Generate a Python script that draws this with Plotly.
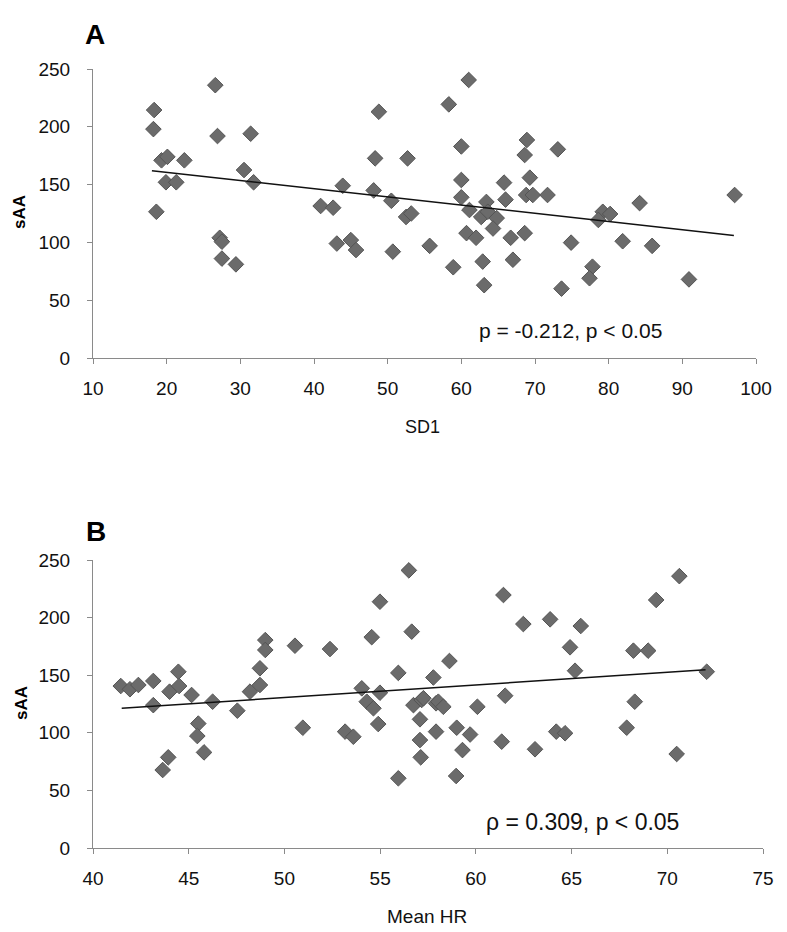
import plotly.graph_objects as go

# ---------------- Data ----------------
# Panel A: SD1 vs sAA
sd1 = [18.3, 18.2, 19.3, 20.1, 22.4, 19.9, 21.3, 18.6, 26.6, 26.9, 31.4, 30.5, 31.8,
       27.2, 27.5, 27.5, 29.4, 40.9, 42.6, 43.9, 43.1, 45.0, 45.7, 48.8, 48.3, 48.1,
       50.5, 50.7, 52.7, 52.5, 53.2, 55.7,
       61.0, 58.3, 60.0, 68.9, 68.6, 73.1, 60.0, 65.8, 69.3, 60.0, 66.0, 68.8, 69.7,
       71.7, 61.1, 63.4, 62.7, 63.6, 64.8, 64.3, 60.7, 62.0, 66.7, 68.6, 58.9, 62.9,
       63.1, 67.0, 74.9, 73.6, 77.8, 77.4, 79.2, 80.2, 78.6, 81.9, 84.2, 85.9, 90.9, 97.1]
saa_a = [214.5, 198, 171, 174, 171, 152, 152, 126.5, 236, 192, 194, 162.6, 152,
         104, 100.6, 86, 81, 131.5, 130, 149, 99, 102, 93.4, 213, 172.7, 145,
         136, 92, 172.7, 122, 125, 97,
         240.5, 219.4, 183, 188.6, 175.6, 180.5, 154, 151.7, 156, 139, 137, 141, 141,
         141, 128, 135, 122, 126.5, 121, 112, 108, 104, 104, 108, 78.5, 83.4,
         63, 85, 99.8, 60, 79, 69, 126.5, 124.6, 119.4, 101, 134, 97, 68, 141]
trend_a_x = [18, 97]
trend_a_y = [162, 106]

# Panel B: Mean HR vs sAA
hr = [41.45, 41.93, 42.37, 43.15, 43.15, 44.0, 44.46, 44.5, 43.64, 43.93, 45.15, 46.25,
      45.5, 45.45, 45.8, 47.54, 48.2, 48.72, 48.72, 49.0, 49.0, 50.55, 50.96, 52.38,
      53.17, 53.6, 54.04, 54.3, 54.65, 54.9, 54.56, 54.99, 54.99, 55.95, 55.95, 56.5,
      56.65, 56.74, 57.17, 57.08, 57.08, 57.12, 57.78, 57.92, 57.92,
      57.26, 58.04, 58.3, 58.62, 59.0, 59.7, 59.3, 58.97, 60.08, 61.44, 61.53, 61.35,
      62.48, 63.09, 63.88, 64.2, 64.66, 64.92, 65.18, 65.48, 67.88, 68.23, 69.0, 68.3,
      69.42, 70.63, 70.49, 72.06]
saa_b = [140.6, 137.8, 141.5, 145, 124, 135.7, 153, 140.6, 67.7, 78.7, 132.8, 127,
         108, 97.2, 83, 119.2, 135.7, 141.5, 156, 180.5, 171.9, 175.6, 104.4, 172.7,
         101, 96.6, 138.6, 127, 121.3, 107.6, 183, 213.8, 134.8, 60.5, 152, 241,
         187.8, 124, 128.5, 111.7, 93.7, 78.7, 148, 125.6, 101,
         130, 127, 122.6, 162.3, 104.4, 98.5, 85, 62.5, 122.6, 219.6, 132.2, 92.3,
         194.4, 85.7, 198.5, 101, 99.6, 174.2, 153.9, 192.7, 104.4, 171.3, 171.3, 127,
         215.3, 236, 81.6, 153]
trend_b_x = [41.5, 72.0]
trend_b_y = [121.3, 154.7]

y_ticks = [0, 50, 100, 150, 200, 250]

# ---------------- Figure ----------------
W, H = 787, 932
OFF = 8  # page body margin
def px(x):
    return (x - OFF) / W
def py(y):
    return 1 - (y - OFF) / H

marker = dict(symbol="diamond", size=12, color="#6b6b6b",
              line=dict(color="#555555", width=1))

fig = go.Figure()
fig.add_trace(go.Scatter(x=sd1, y=saa_a, mode="markers", marker=marker,
                         xaxis="x", yaxis="y", showlegend=False))
fig.add_trace(go.Scatter(x=trend_a_x, y=trend_a_y, mode="lines",
                         line=dict(color="#111111", width=1.5),
                         xaxis="x", yaxis="y", showlegend=False))
fig.add_trace(go.Scatter(x=hr, y=saa_b, mode="markers", marker=marker,
                         xaxis="x2", yaxis="y2", showlegend=False))
fig.add_trace(go.Scatter(x=trend_b_x, y=trend_b_y, mode="lines",
                         line=dict(color="#111111", width=1.5),
                         xaxis="x2", yaxis="y2", showlegend=False))

font_main = "Arial, Liberation Sans, sans-serif"
axis_common = dict(showline=True, linecolor="#8a8a8a", linewidth=1.2,
                   ticks="outside", ticklen=5, tickcolor="#8a8a8a", tickwidth=1.2,
                   showgrid=False, zeroline=False, automargin=False,
                   tickfont=dict(family=font_main, size=19, color="#111111"))
xax = dict(ticklabelstandoff=8, **axis_common)
yax = dict(ticklabelstandoff=13, **axis_common)

fig.update_layout(
    template="none",
    width=W, height=H,
    margin=dict(l=0, r=0, t=0, b=0, pad=0),
    paper_bgcolor="white", plot_bgcolor="white",
    xaxis=dict(domain=[px(93), px(756)], range=[10, 100], dtick=10, tick0=10,
               anchor="y", **xax),
    yaxis=dict(domain=[py(358), py(69)], range=[0, 250], tickvals=y_ticks,
               anchor="x", **yax),
    xaxis2=dict(domain=[px(93), px(763)], range=[40, 75], dtick=5, tick0=40,
                anchor="y2", **xax),
    yaxis2=dict(domain=[py(848), py(560)], range=[0, 250], tickvals=y_ticks,
                anchor="x2", **yax),
)

ann = [
    dict(text="<b>A</b>", x=px(83), y=py(35), xanchor="left", yanchor="middle",
         font=dict(family=font_main, size=28, color="#000")),
    dict(text="<b>B</b>", x=px(84), y=py(531), xanchor="left", yanchor="middle",
         font=dict(family=font_main, size=28, color="#000")),
    dict(text="<b>sAA</b>", x=px(20), y=py(212), textangle=-90,
         xanchor="center", yanchor="middle",
         font=dict(family=font_main, size=17, color="#000")),
    dict(text="<b>sAA</b>", x=px(21), y=py(703), textangle=-90,
         xanchor="center", yanchor="middle",
         font=dict(family=font_main, size=17, color="#000")),
    dict(text="SD1", x=px(422), y=py(427), xanchor="center", yanchor="middle",
         font=dict(family=font_main, size=18, color="#111")),
    dict(text="Mean HR", x=px(427), y=py(916), xanchor="center", yanchor="middle",
         font=dict(family=font_main, size=19, color="#111")),
    dict(text="p = -0.212, p &lt; 0.05", x=px(570), y=py(330),
         xanchor="center", yanchor="middle",
         font=dict(family=font_main, size=21, color="#111")),
    dict(text="ρ = 0.309, p &lt; 0.05", x=px(582), y=py(822),
         xanchor="center", yanchor="middle",
         font=dict(family="Liberation Sans Narrow, Arial Narrow, Arial, sans-serif",
                   size=23, color="#111")),
]
for a in ann:
    a.update(xref="paper", yref="paper", showarrow=False)
fig.update_layout(annotations=ann)

fig.write_html("out.html")
